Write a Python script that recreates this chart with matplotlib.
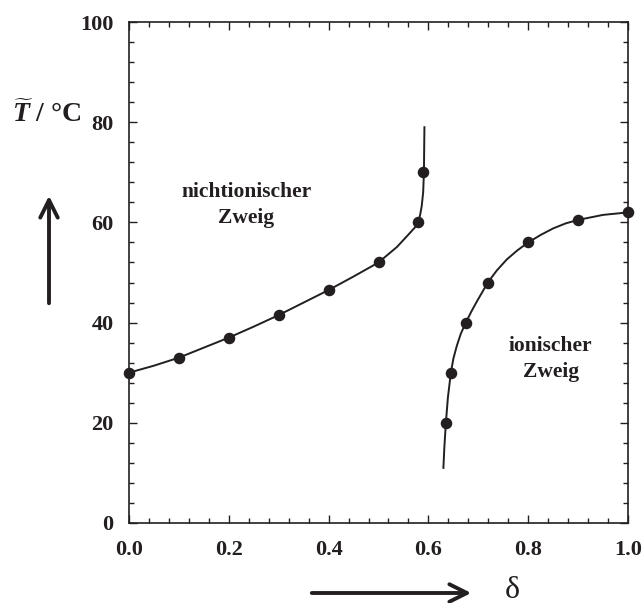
import matplotlib
matplotlib.use("Agg")
import matplotlib.pyplot as plt
from matplotlib.patches import FancyArrowPatch
from matplotlib.ticker import MultipleLocator, FormatStrFormatter

INK = "#231f20"
SERIF = "Liberation Serif"

# measured points, non-ionic branch
delta_nonionic = [0.0, 0.1, 0.2, 0.3, 0.4, 0.5, 0.579, 0.589]
temp_nonionic = [30.0, 33.0, 37.0, 41.5, 46.5, 52.0, 60.0, 70.0]

# measured points, ionic branch
delta_ionic = [0.635, 0.645, 0.675, 0.719, 0.8, 0.9, 1.0]
temp_ionic = [20.0, 30.0, 40.0, 48.0, 56.0, 60.5, 62.0]

# guide curves traced along each branch
fit_delta_nonionic = [0.0, 0.05, 0.1, 0.15, 0.2, 0.25, 0.3, 0.35, 0.4, 0.45, 0.5,
                      0.537, 0.563, 0.573, 0.579, 0.583, 0.5865, 0.5895, 0.591, 0.592]
fit_temp_nonionic = [30.0, 31.4, 33.0, 35.0, 37.0, 39.2, 41.5, 44.0, 46.5, 49.2, 52.0,
                     55.1, 57.9, 59.0, 60.0, 61.3, 63.2, 66.0, 70.0, 79.0]
fit_delta_ionic = [0.630, 0.632, 0.635, 0.639, 0.645, 0.650, 0.657, 0.665, 0.675,
                   0.686, 0.697, 0.719, 0.737, 0.757, 0.778, 0.8, 0.825, 0.85,
                   0.875, 0.9, 0.95, 1.0]
fit_temp_ionic = [11.0, 15.2, 20.0, 25.0, 30.0, 32.8, 35.4, 37.8, 40.0,
                  42.2, 44.2, 48.0, 50.4, 52.6, 54.4, 56.0, 57.5, 58.8,
                  59.8, 60.5, 61.5, 62.0]

plt.rcParams["font.family"] = [SERIF, "DejaVu Serif"]
plt.rcParams["mathtext.fontset"] = "custom"
plt.rcParams["mathtext.it"] = "Liberation Serif:italic:bold"
plt.rcParams["mathtext.rm"] = "Liberation Serif:bold"

fig = plt.figure(figsize=(6.44, 6.03), dpi=100)
ax = fig.add_axes([0.2003, 0.1327, 0.7749, 0.8308])

ax.plot(fit_delta_nonionic, fit_temp_nonionic, color=INK, lw=1.4, clip_on=False)
ax.plot(fit_delta_ionic, fit_temp_ionic, color=INK, lw=1.4, clip_on=False)
ax.plot(delta_nonionic, temp_nonionic, "o", color=INK, ms=7.3, clip_on=False, zorder=3)
ax.plot(delta_ionic, temp_ionic, "o", color=INK, ms=7.3, clip_on=False, zorder=3)

ax.set_xlim(0, 1)
ax.set_ylim(0, 100)
ax.xaxis.set_major_locator(MultipleLocator(0.2))
ax.xaxis.set_minor_locator(MultipleLocator(0.04))
ax.yaxis.set_major_locator(MultipleLocator(20))
ax.yaxis.set_minor_locator(MultipleLocator(4))
ax.xaxis.set_major_formatter(FormatStrFormatter("%.1f"))
ax.tick_params(which="both", direction="in", top=True, right=True, color=INK, width=1.0)
ax.tick_params(which="major", length=6, labelsize=16, labelcolor=INK)
ax.tick_params(which="minor", length=3.5)
ax.tick_params(axis="x", which="major", pad=12)
ax.tick_params(axis="y", which="major", pad=11)
for lbl in ax.get_xticklabels() + ax.get_yticklabels():
    lbl.set_fontweight("bold")
for sp in ax.spines.values():
    sp.set_linewidth(1.2)
    sp.set_color(INK)

ax.text(0.235, 63.5, "nichtionischer\nZweig", ha="center", va="center", fontsize=15.5,
        fontweight="bold", linespacing=1.4, color=INK)
ax.text(0.845, 32.7, "ionischer\nZweig", ha="center", va="center", fontsize=15.5,
        fontweight="bold", linespacing=1.4, color=INK)

# axis titles and direction arrows live in figure coordinates
fig.text(12 / 644, 1 - 114 / 603, r"$\widetilde{T}$ / °C", fontsize=20, fontweight="bold",
         ha="left", va="center", color=INK)
fig.text(512 / 644, 1 - 590 / 603, "δ", fontsize=23, ha="center", va="center", color=INK)

arrow_style = "->,head_length=0.9,head_width=0.45"
fig.patches.append(FancyArrowPatch((49 / 644, 1 - 306 / 603), (49 / 644, 1 - 193 / 603),
                                   transform=fig.transFigure, arrowstyle=arrow_style,
                                   lw=2.8, color=INK, mutation_scale=14))
fig.patches.append(FancyArrowPatch((309 / 644, 1 - 593 / 603), (474 / 644, 1 - 593 / 603),
                                   transform=fig.transFigure, arrowstyle=arrow_style,
                                   lw=2.8, color=INK, mutation_scale=14))

fig.savefig("out.png", dpi=100, facecolor="white")
